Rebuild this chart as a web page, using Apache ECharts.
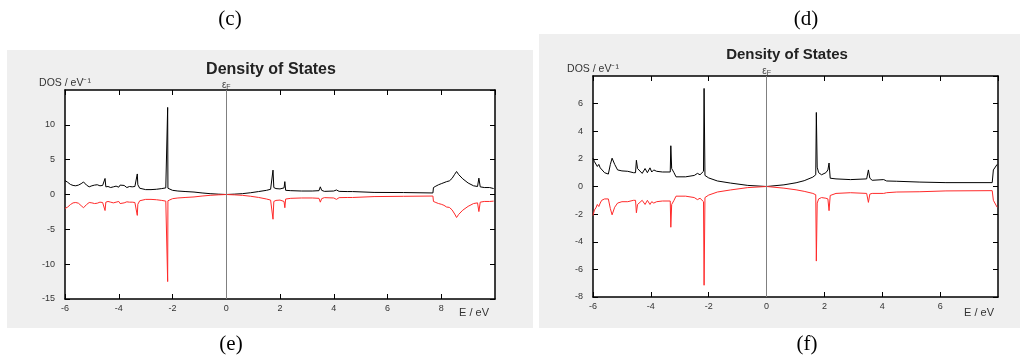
<!DOCTYPE html>
<html>
<head>
<meta charset="utf-8">
<title>Density of States</title>
<script src="https://cdn.jsdelivr.net/npm/echarts@6/dist/echarts.min.js"></script>
<style>
  html, body { margin: 0; padding: 0; background: #fff; }
  #chart { width: 1025px; height: 361px; }
</style>
</head>
<body>
<div id="chart"></div>
<script>
// Panel (e): energy grid (eV) and spin-resolved DOS (states / eV)
const energyE = [
  -6.00, -5.90, -5.80, -5.70, -5.60, -5.50, -5.40, -5.31, -5.20, -5.10,
  -5.00, -4.90, -4.80, -4.70, -4.60, -4.53, -4.51, -4.48, -4.40, -4.30,
  -4.20, -4.10, -4.00, -3.95, -3.90, -3.80, -3.70, -3.60, -3.50, -3.40,
  -3.33, -3.31, -3.29, -3.22, -3.15, -3.00, -2.80, -2.60, -2.40, -2.25,
  -2.19, -2.18, -2.17, -2.10, -2.00, -1.80, -1.50, -1.20, -0.90, -0.60,
  -0.30, 0.00, 0.30, 0.60, 0.90, 1.20, 1.50, 1.65, 1.72, 1.74,
  1.77, 1.85, 2.00, 2.15, 2.18, 2.21, 2.40, 2.80, 3.20, 3.45,
  3.50, 3.55, 3.65, 4.00, 4.10, 4.20, 4.50, 4.70, 4.75, 5.50,
  6.60, 6.65, 7.69, 7.71, 7.80, 7.90, 8.00, 8.10, 8.20, 8.25,
  8.30, 8.40, 8.50, 8.57, 8.65, 8.80, 9.00, 9.20, 9.35, 9.40,
  9.45, 9.60, 9.80, 9.95
];
const spinUpE = [
  2.00, 1.75, 1.45, 1.30, 1.25, 1.35, 1.55, 1.80, 1.35, 1.10,
  1.25, 1.35, 1.40, 1.25, 1.30, 1.35, 2.30, 1.10, 1.15, 1.00,
  1.10, 1.20, 1.05, 1.35, 1.10, 1.30, 1.00, 1.15, 1.10, 1.15,
  1.20, 2.95, 1.40, 0.90, 0.70, 0.70, 0.70, 0.75, 0.85, 0.95,
  1.00, 12.5, 0.90, 0.70, 0.60, 0.50, 0.42, 0.35, 0.22, 0.12,
  0.05, 0.00, 0.05, 0.12, 0.25, 0.42, 0.60, 0.75, 0.85, 3.50,
  1.00, 0.85, 0.80, 0.95, 1.85, 0.60, 0.55, 0.50, 0.50, 0.55,
  1.10, 0.60, 0.45, 0.50, 0.65, 0.45, 0.42, 0.42, 0.32, 0.30,
  0.28, 0.22, 0.22, 1.00, 1.20, 1.40, 1.55, 1.70, 1.85, 1.75,
  1.95, 2.30, 2.90, 3.30, 2.85, 2.25, 1.65, 1.25, 1.15, 2.35,
  1.10, 1.00, 1.00, 0.85
];
const spinDownE = [
  -2.00, -1.80, -1.45, -1.20, -1.15, -1.25, -1.60, -1.90, -1.45, -1.15,
  -1.20, -1.30, -1.25, -1.10, -1.15, -1.20, -2.30, -1.10, -1.00, -1.10,
  -1.20, -1.10, -1.00, -1.30, -1.10, -1.20, -1.05, -1.10, -1.10, -1.15,
  -1.20, -3.00, -1.40, -0.90, -0.70, -0.70, -0.70, -0.75, -0.85, -0.95,
  -1.00, -12.5, -0.90, -0.70, -0.60, -0.50, -0.42, -0.35, -0.22, -0.12,
  -0.05, 0.00, -0.05, -0.12, -0.25, -0.42, -0.65, -0.80, -0.95, -3.55,
  -1.00, -0.85, -0.80, -1.00, -1.90, -0.65, -0.55, -0.50, -0.50, -0.55,
  -1.10, -0.60, -0.45, -0.50, -0.70, -0.45, -0.43, -0.43, -0.32, -0.30,
  -0.26, -0.22, -0.22, -1.00, -1.15, -1.30, -1.40, -1.55, -1.80, -1.60,
  -1.85, -2.20, -2.80, -3.30, -2.85, -2.25, -1.70, -1.30, -1.20, -2.45,
  -1.10, -1.00, -1.00, -0.95
];

// Panel (f): energy grid (eV) and spin-resolved DOS (states / eV)
const energyF = [
  -6.00, -5.95, -5.90, -5.85, -5.80, -5.75, -5.70, -5.60, -5.47, -5.40,
  -5.34, -5.25, -5.15, -5.00, -4.80, -4.60, -4.53, -4.50, -4.46, -4.40,
  -4.30, -4.20, -4.12, -4.03, -3.97, -3.90, -3.80, -3.60, -3.33, -3.31,
  -3.28, -3.20, -3.13, -2.80, -2.50, -2.39, -2.30, -2.18, -2.16, -2.13,
  -2.00, -1.70, -1.25, -0.65, 0.00, 0.15, 0.60, 1.02, 1.30, 1.60,
  1.70, 1.72, 1.75, 1.80, 1.90, 2.05, 2.12, 2.16, 2.20, 2.40,
  2.90, 3.46, 3.52, 3.57, 3.65, 4.05, 4.10, 4.15, 4.50, 5.30,
  6.20, 7.80, 7.84, 7.90, 7.97
];
const spinUpF = [
  2.05, 1.80, 1.90, 1.45, 1.60, 1.35, 1.40, 1.00, 0.90, 1.60,
  2.05, 1.60, 1.20, 1.13, 1.10, 1.00, 1.00, 1.90, 1.30, 1.35,
  0.95, 1.30, 1.00, 1.35, 1.05, 1.20, 1.10, 1.05, 1.05, 2.95,
  1.30, 1.00, 0.70, 0.70, 0.80, 0.95, 0.85, 1.10, 7.10, 0.80,
  0.62, 0.40, 0.25, 0.08, 0.00, 0.03, 0.12, 0.27, 0.42, 0.68,
  0.85, 5.36, 1.40, 1.00, 0.85, 1.00, 1.20, 1.70, 0.60, 0.55,
  0.50, 0.55, 1.20, 0.60, 0.45, 0.50, 0.60, 0.40, 0.38, 0.32,
  0.28, 0.28, 1.20, 1.10, 1.60
];
const spinDownF = [
  -2.10, -1.70, -1.55, -1.30, -1.45, -1.20, -1.00, -0.90, -0.90, -1.60,
  -2.05, -1.50, -1.20, -1.10, -1.10, -1.00, -1.00, -1.90, -1.30, -1.35,
  -1.00, -1.30, -1.00, -1.30, -1.10, -1.20, -1.10, -1.05, -1.05, -2.95,
  -1.30, -1.00, -0.70, -0.70, -0.80, -0.95, -0.85, -1.10, -7.15, -0.80,
  -0.62, -0.40, -0.25, -0.08, 0.00, -0.03, -0.12, -0.24, -0.35, -0.50,
  -0.60, -5.40, -1.20, -0.90, -0.80, -0.85, -0.90, -1.75, -0.65, -0.50,
  -0.45, -0.50, -1.15, -0.55, -0.50, -0.50, -0.60, -0.45, -0.40, -0.38,
  -0.32, -0.30, -1.00, -1.10, -1.50
];

// Axis ranges and tick steps per panel
const xRangeE = { min: -6, max: 10, step: 2 };
const yRangeE = { min: -15, max: 15, step: 5 };
const xRangeF = { min: -6, max: 8, step: 2 };
const yRangeF = { min: -8, max: 8, step: 2 };

const titleText = 'Density of States';
const yAxisTitle = 'DOS / eV\u207B\u00B9';
const xAxisTitle = 'E / eV';
const panelLabels = ['(c)', '(d)', '(e)', '(f)'];

const pairs = (xs, ys) => xs.map((x, i) => [x, ys[i]]);

const SANS = '"Liberation Sans", Arial, sans-serif';
const SERIF = '"Liberation Serif", "Times New Roman", serif';

function mainX(grid, r) {
  return {
    type: 'value', gridIndex: grid, position: 'bottom',
    min: r.min, max: r.max, interval: r.step,
    axisLine: { onZero: false, lineStyle: { color: '#000', width: 1.5 } },
    axisTick: { inside: true, length: 5, lineStyle: { color: '#000' } },
    axisLabel: { showMaxLabel: false, margin: 5, fontSize: 9, color: '#333', fontFamily: SANS },
    splitLine: { show: false }
  };
}
function mirrorX(grid, r) {
  return {
    type: 'value', gridIndex: grid, position: 'top',
    min: r.min, max: r.max, interval: r.step,
    axisLine: { onZero: false, lineStyle: { color: '#000', width: 1.5 } },
    axisTick: { inside: true, length: 5, lineStyle: { color: '#000' } },
    axisLabel: { show: false },
    splitLine: { show: false }
  };
}
function mainY(grid, r) {
  return {
    type: 'value', gridIndex: grid, position: 'left',
    min: r.min, max: r.max, interval: r.step,
    name: yAxisTitle, nameLocation: 'end', nameGap: 1,
    nameTextStyle: { fontSize: 10.5, color: '#333', fontFamily: SANS, align: 'center' },
    axisLine: { onZero: false, lineStyle: { color: '#000', width: 1.5 } },
    axisTick: { inside: true, length: 5, lineStyle: { color: '#000' } },
    axisLabel: { showMaxLabel: false, margin: 10, fontSize: 9, color: '#333', fontFamily: SANS },
    splitLine: { show: false }
  };
}
function mirrorY(grid, r) {
  return {
    type: 'value', gridIndex: grid, position: 'right',
    min: r.min, max: r.max, interval: r.step,
    axisLine: { onZero: false, lineStyle: { color: '#000', width: 1.5 } },
    axisTick: { inside: true, length: 5, lineStyle: { color: '#000' } },
    axisLabel: { show: false },
    splitLine: { show: false }
  };
}

// Fermi level marker with an epsilon-F label above the frame
const fermiLine = {
  silent: true,
  symbol: 'none',
  lineStyle: { color: '#808080', width: 1, type: 'solid' },
  label: {
    show: true, position: 'end', distance: -1,
    formatter: '{e|\u03B5}{s|F}',
    rich: {
      e: { fontSize: 10, color: '#444', fontFamily: SANS },
      s: { fontSize: 7, color: '#444', fontFamily: SANS, padding: [4, 0, 0, 0] }
    }
  },
  data: [{ xAxis: 0 }]
};

function dosSeries(xi, yi, xs, ys, color, withFermi) {
  const s = {
    type: 'line', xAxisIndex: xi, yAxisIndex: yi,
    data: pairs(xs, ys),
    showSymbol: false, symbol: 'none', smooth: false,
    lineStyle: { color: color, width: 1 },
    emphasis: { disabled: true }
  };
  if (withFermi) s.markLine = fermiLine;
  return s;
}

const chart = echarts.init(document.getElementById('chart'), null, { renderer: 'canvas' });

chart.setOption({
  animation: false,
  backgroundColor: '#ffffff',
  grid: [
    { left: 65, top: 90, width: 430, height: 209, show: true, backgroundColor: '#ffffff', borderWidth: 0 },
    { left: 593, top: 76, width: 405, height: 221, show: true, backgroundColor: '#ffffff', borderWidth: 0 }
  ],
  xAxis: [mainX(0, xRangeE), mirrorX(0, xRangeE), mainX(1, xRangeF), mirrorX(1, xRangeF)],
  yAxis: [mainY(0, yRangeE), mirrorY(0, yRangeE), mainY(1, yRangeF), mirrorY(1, yRangeF)],
  series: [
    dosSeries(0, 0, energyE, spinUpE, '#000000', true),
    dosSeries(0, 0, energyE, spinDownE, '#ff2a2a', false),
    dosSeries(2, 2, energyF, spinUpF, '#000000', true),
    dosSeries(2, 2, energyF, spinDownF, '#ff2a2a', false)
  ],
  graphic: { elements: [
    // panel backgrounds
    { type: 'rect', z: -100, silent: true, shape: { x: 7, y: 50, width: 526, height: 278 }, style: { fill: '#efefef' } },
    { type: 'rect', z: -100, silent: true, shape: { x: 539, y: 34, width: 481, height: 294 }, style: { fill: '#efefef' } },
    // panel titles
    { type: 'text', silent: true, x: 271, y: 70, style: { text: titleText, font: 'bold 16px ' + SANS, fill: '#222', textAlign: 'center', textVerticalAlign: 'middle' } },
    { type: 'text', silent: true, x: 787, y: 55, style: { text: titleText, font: 'bold 15px ' + SANS, fill: '#222', textAlign: 'center', textVerticalAlign: 'middle' } },
    // energy axis captions
    { type: 'text', silent: true, x: 474, y: 313, style: { text: xAxisTitle, font: '11px ' + SANS, fill: '#333', textAlign: 'center', textVerticalAlign: 'middle' } },
    { type: 'text', silent: true, x: 979, y: 313, style: { text: xAxisTitle, font: '11px ' + SANS, fill: '#333', textAlign: 'center', textVerticalAlign: 'middle' } },
    // figure letters
    { type: 'text', silent: true, x: 230, y: 19, style: { text: panelLabels[0], font: '21px ' + SERIF, fill: '#000', textAlign: 'center', textVerticalAlign: 'middle' } },
    { type: 'text', silent: true, x: 806, y: 19, style: { text: panelLabels[1], font: '21px ' + SERIF, fill: '#000', textAlign: 'center', textVerticalAlign: 'middle' } },
    { type: 'text', silent: true, x: 231, y: 344, style: { text: panelLabels[2], font: '21px ' + SERIF, fill: '#000', textAlign: 'center', textVerticalAlign: 'middle' } },
    { type: 'text', silent: true, x: 807, y: 344, style: { text: panelLabels[3], font: '21px ' + SERIF, fill: '#000', textAlign: 'center', textVerticalAlign: 'middle' } }
  ] }
});
</script>
</body>
</html>
